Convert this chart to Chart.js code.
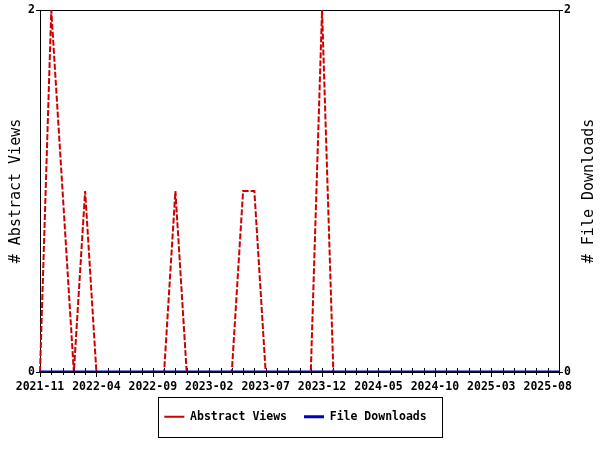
<!DOCTYPE html>
<html>
<head>
<meta charset="utf-8">
<script src="https://cdn.jsdelivr.net/npm/chart.js@4/dist/chart.umd.min.js"></script>
<style>
  html, body { margin: 0; padding: 0; background: #ffffff; }
  #wrap { width: 600px; height: 450px; position: relative; }
</style>
</head>
<body>
<div id="wrap"><canvas id="c"></canvas></div>
<script>
const months = [
  '2021-11','2021-12','2022-01','2022-02','2022-03','2022-04','2022-05','2022-06','2022-07','2022-08',
  '2022-09','2022-10','2022-11','2022-12','2023-01','2023-02','2023-03','2023-04','2023-05','2023-06',
  '2023-07','2023-08','2023-09','2023-10','2023-11','2023-12','2024-01','2024-02','2024-03','2024-04',
  '2024-05','2024-06','2024-07','2024-08','2024-09','2024-10','2024-11','2024-12','2025-01','2025-02',
  '2025-03','2025-04','2025-05','2025-06','2025-07','2025-08','2025-09'
];
const abstractViews = [
  0,2,1,0,1,0,0,0,0,0,
  0,0,1,0,0,0,0,0,1,1,
  0,0,0,0,0,2,0,0,0,0,
  0,0,0,0,0,0,0,0,0,0,
  0,0,0,0,0,0,0
];
const fileDownloads = [
  0,0,0,0,0,0,0,0,0,0,
  0,0,0,0,0,0,0,0,0,0,
  0,0,0,0,0,0,0,0,0,0,
  0,0,0,0,0,0,0,0,0,0,
  0,0,0,0,0,0,0
];
const yTicks = [0, 2];
const labelEvery = 5;

Chart.defaults.font.family = "'DejaVu Sans Mono', monospace";
Chart.defaults.color = '#000000';

const FONT_TICK = { family: "'DejaVu Sans Mono', monospace", size: 11.5, weight: 'bold' };
const FONT_TITLE = { family: "'DejaVu Sans Mono', monospace", size: 15, weight: 'normal' };

const extras = {
  id: 'extras',
  afterLayout(chart) {
    if (chart.legend) { chart.legend.right = chart.legend.left + chart.width - 9; }
  },
  beforeDatasetsDraw(chart) {
    const ctx = chart.ctx;
    const x = chart.scales.x;
    const area = chart.chartArea;
    ctx.save();
    ctx.strokeStyle = '#000000';
    ctx.lineWidth = 1;
    for (let i = 0; i < x.ticks.length; i++) {
      const px = Math.round(x.getPixelForTick(i)) + 0.5;
      const major = i % labelEvery === 0;
      ctx.beginPath();
      ctx.moveTo(px, area.bottom - 4);
      ctx.lineTo(px, area.bottom + (major ? 5 : 3));
      ctx.stroke();
    }
    ctx.restore();
  },
  afterDraw(chart) {
    const ctx = chart.ctx;
    const area = chart.chartArea;
    ctx.save();
    const y1 = chart.scales.y1;
    const t = y1.options.title;
    ctx.fillStyle = '#000000';
    ctx.font = "15px 'DejaVu Sans Mono', monospace";
    ctx.textAlign = 'center';
    ctx.textBaseline = 'middle';
    ctx.translate(589, (area.top + area.bottom) / 2);
    ctx.rotate(-Math.PI / 2);
    ctx.fillText(t.text, 0, 0);
    ctx.restore();
    const hb = chart.legend.legendHitBoxes;
    if (hb && hb.length) {
      let l = Infinity, r = -Infinity, cy = 0;
      hb.forEach(b => { l = Math.min(l, b.left); r = Math.max(r, b.left + b.width); cy = b.top + b.height / 2; });
      ctx.save();
      ctx.strokeStyle = '#000000';
      ctx.lineWidth = 1;
      const L = Math.round(l - 6), R = Math.round(r + 15);
      ctx.strokeRect(L + 0.5, Math.round(cy - 20) + 0.5, R - L, 40);
      ctx.restore();
    }
  }
};

new Chart(document.getElementById('c'), {
  type: 'line',
  data: {
    labels: months,
    datasets: [
      {
        label: 'Abstract Views',
        data: abstractViews,
        yAxisID: 'y',
        borderColor: '#cc0000',
        backgroundColor: '#cc0000',
        borderWidth: 2,
        borderDash: [6, 2],
        pointRadius: 0,
        tension: 0,
        fill: false,
        order: 1
      },
      {
        label: 'File Downloads',
        data: fileDownloads,
        yAxisID: 'y1',
        borderColor: '#0000c0',
        backgroundColor: '#0000c0',
        borderWidth: 3,
        pointRadius: 0,
        tension: 0,
        fill: false,
        order: 0
      }
    ]
  },
  options: {
    responsive: true,
    maintainAspectRatio: false,
    animation: false,
    events: [],
    layout: { padding: { top: 10, left: 0, right: 0, bottom: 17.5 } },
    plugins: {
      tooltip: { enabled: false },
      legend: {
        position: 'bottom',
        labels: {
          usePointStyle: true,
          pointStyle: 'line',
          pointStyleWidth: 20,
          padding: 17,
          color: '#000000',
          font: FONT_TICK,
          sort: (a, b) => a.datasetIndex - b.datasetIndex
        }
      }
    },
    scales: {
      x: {
        type: 'category',
        offset: false,
        grid: { display: false, drawTicks: false },
        border: { display: true, color: '#000000', width: 1 },
        ticks: {
          autoSkip: false,
          maxRotation: 0,
          minRotation: 0,
          padding: 8,
          color: '#000000',
          font: FONT_TICK,
          callback: function (v, i) { return i % labelEvery === 0 ? months[i] : ''; }
        },
        afterFit: s => { s.height = 22; }
      },
      y: {
        position: 'left',
        min: yTicks[0],
        max: yTicks[yTicks.length - 1],
        afterBuildTicks: s => { s.ticks = yTicks.map(v => ({ value: v })); },
        grid: {
          drawOnChartArea: true,
          drawTicks: true,
          tickLength: 4,
          tickColor: '#000000',
          color: c => (c.tick && c.tick.value === yTicks[yTicks.length - 1]) ? '#000000' : 'rgba(0,0,0,0)'
        },
        border: { display: true, color: '#000000', width: 1 },
        ticks: { padding: 1, color: '#000000', font: FONT_TICK },
        title: { display: true, text: '# Abstract Views', color: '#000000', font: FONT_TITLE, padding: { top: 7, bottom: 0 } },
        afterFit: s => { s.width = 40; }
      },
      y1: {
        position: 'right',
        min: yTicks[0],
        max: yTicks[yTicks.length - 1],
        afterBuildTicks: s => { s.ticks = yTicks.map(v => ({ value: v })); },
        grid: { drawOnChartArea: false, drawTicks: true, tickLength: 4, tickColor: '#000000' },
        border: { display: true, color: '#000000', width: 1 },
        ticks: { padding: 1, color: '#000000', font: FONT_TICK },
        title: { display: true, text: '# File Downloads', color: 'rgba(0,0,0,0)', font: FONT_TITLE },
        afterFit: s => { s.width = 41; }
      }
    }
  },
  plugins: [extras]
});
</script>
</body>
</html>
